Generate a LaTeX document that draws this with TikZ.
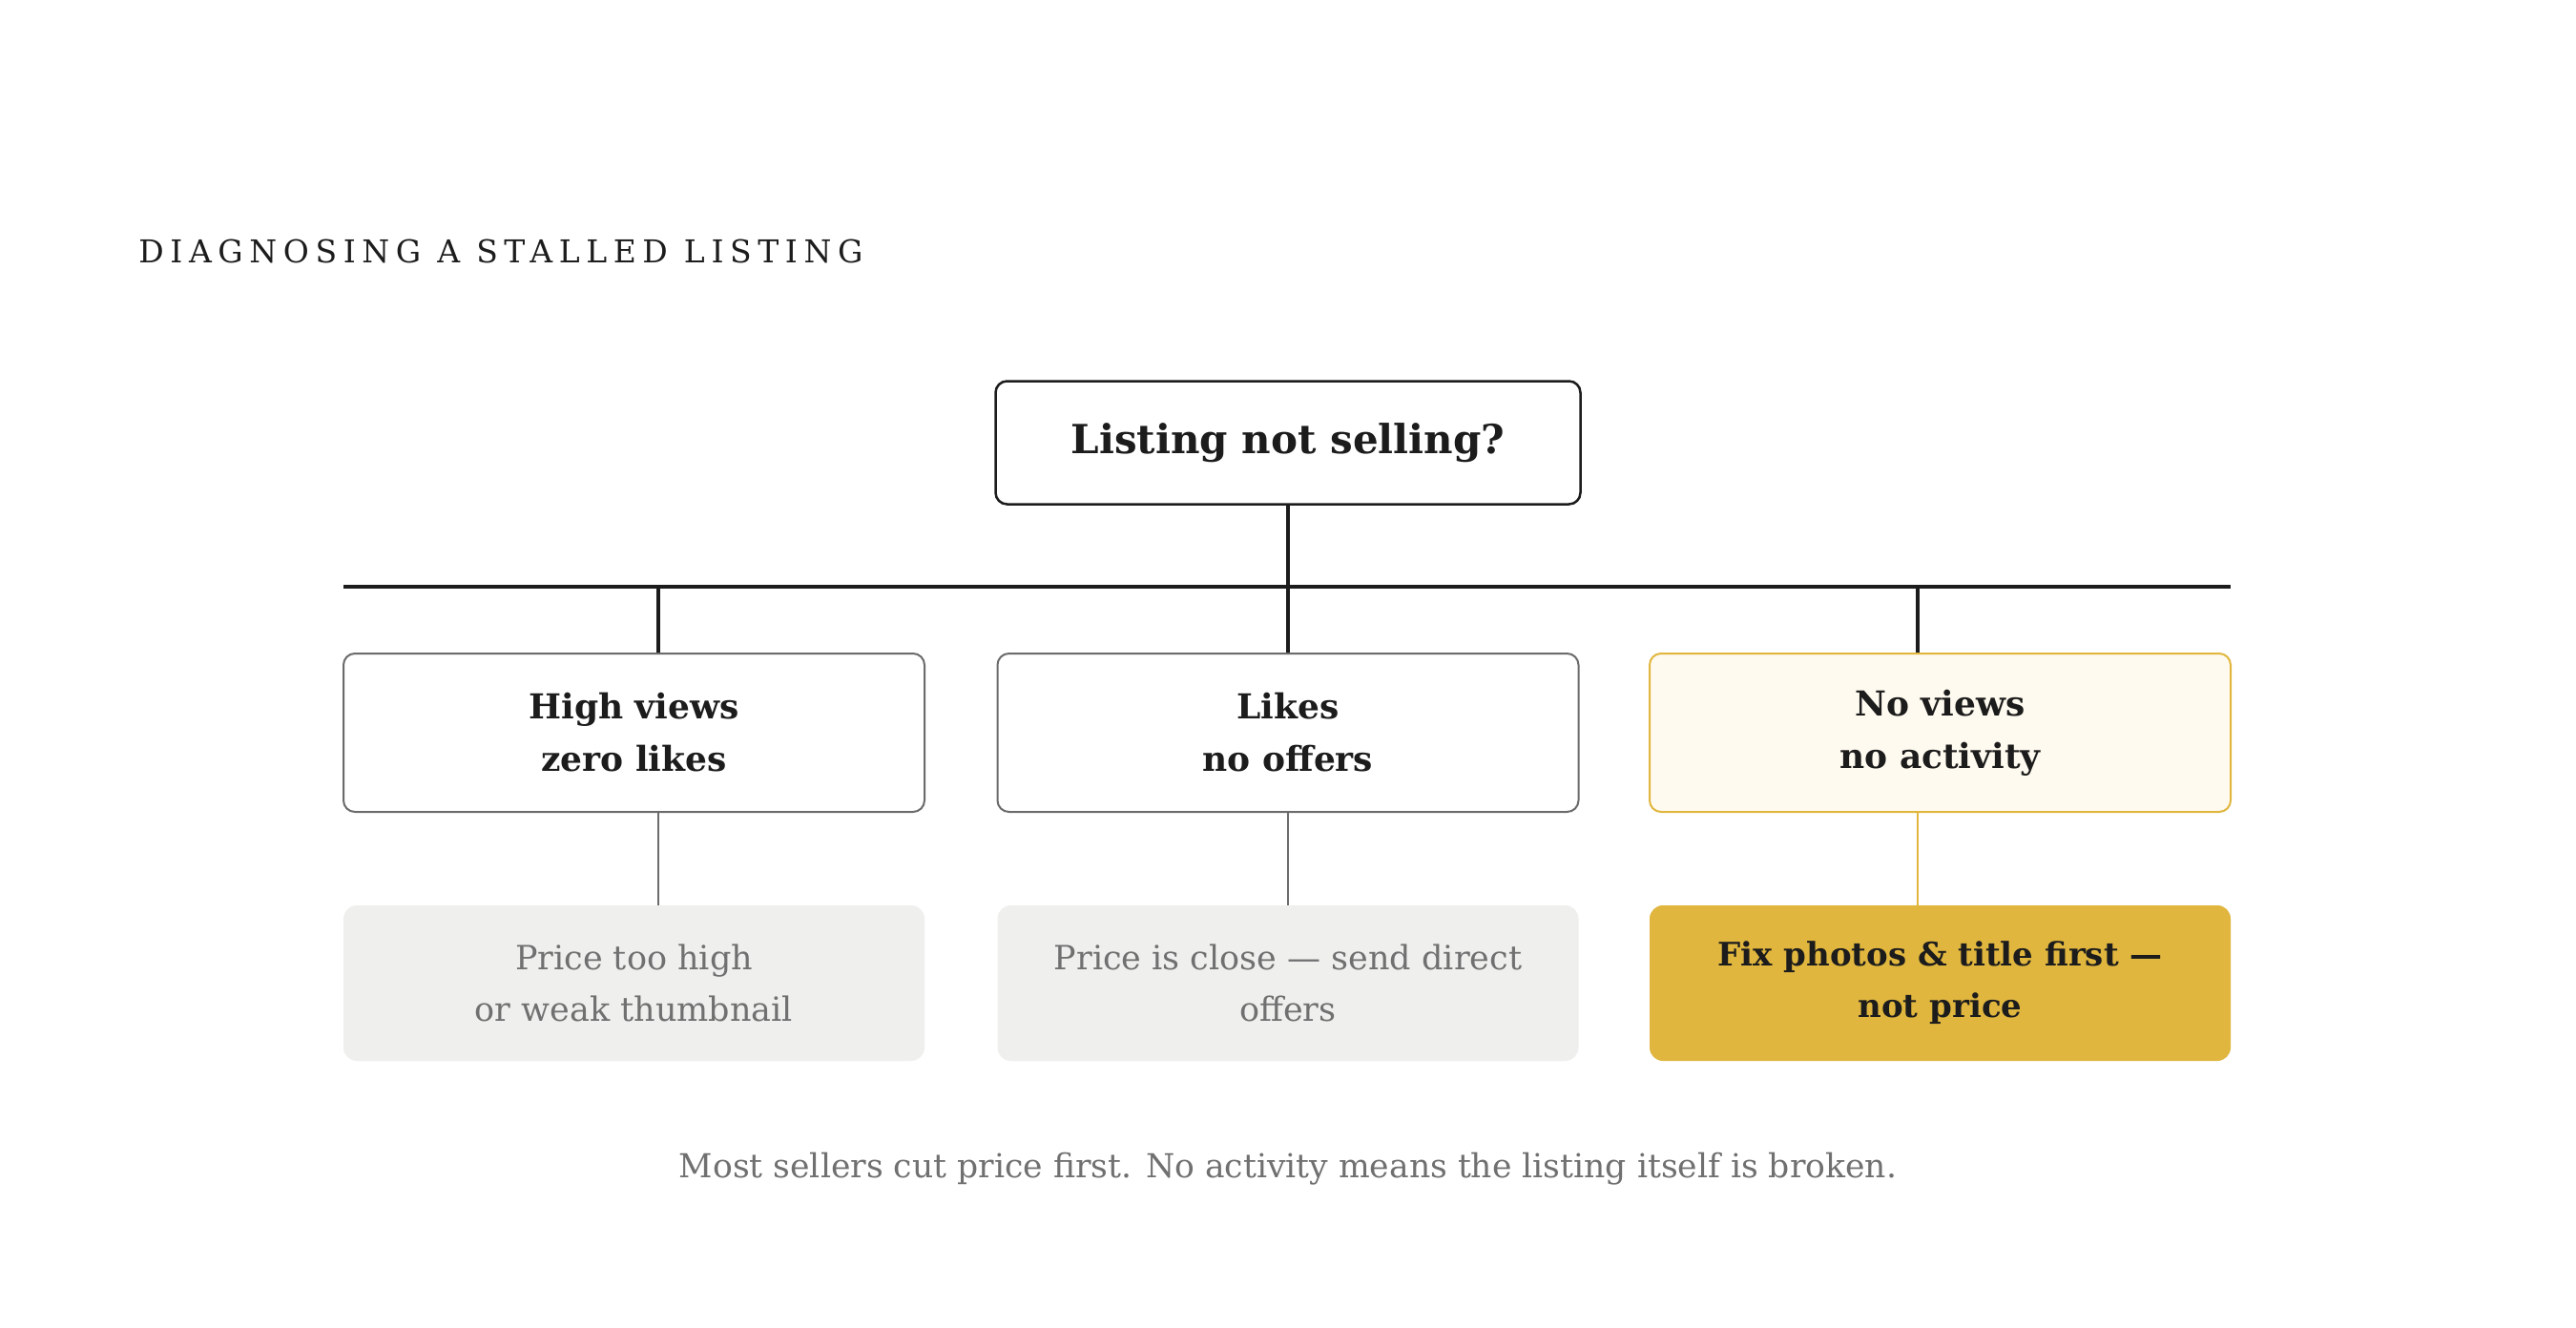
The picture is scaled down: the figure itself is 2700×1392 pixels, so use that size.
\documentclass[tikz,border=0pt]{standalone}
\usepackage{fontspec}
\setmainfont{DejaVu Serif}
\newfontfamily\titlefont[LetterSpace=20]{DejaVu Serif}
\definecolor{ink}{HTML}{1C1C1C}
\definecolor{greyline}{HTML}{6B6B6B}
\definecolor{greyfill}{HTML}{EFEFED}
\definecolor{greytext}{HTML}{707070}
\definecolor{gold}{HTML}{E0B63E}
\definecolor{cream}{HTML}{FFFAEF}
\tikzset{
  topbox/.style={draw=ink, line width=1.25pt, rounded corners=6pt, fill=white,
    minimum width=306.5pt, minimum height=64.5pt, inner sep=0pt,
    font=\fontsize{21}{26}\selectfont\bfseries, text=ink},
  midbox/.style={draw=greyline, line width=1pt, rounded corners=6pt, fill=white,
    minimum width=304.5pt, minimum height=83pt, inner sep=0pt, align=center,
    font=\fontsize{18}{27.5}\selectfont\bfseries, text=ink},
  midgold/.style={midbox, draw=gold, fill=cream},
  lowbox/.style={draw=none, rounded corners=7pt, fill=greyfill,
    minimum width=304.5pt, minimum height=81.5pt, inner sep=0pt, align=center,
    font=\fontsize{17.5}{27}\selectfont, text=greytext},
  lowgold/.style={lowbox, fill=gold, text=ink, font=\fontsize{17}{27}\selectfont\bfseries},
  bus/.style={draw=ink, line width=2.2pt},
  thick link/.style={draw=ink, line width=2pt},
  thin link/.style={draw=greyline, line width=1pt},
  gold link/.style={draw=gold, line width=1pt},
}
\begin{document}
\begin{tikzpicture}[x=0.5pt, y=-0.5pt]
\useasboundingbox[fill=white] (0,0) rectangle (2700,1392);
% title
\node[anchor=base west, inner sep=0pt, text=ink, font=\titlefont\fontsize{16.5}{20}\selectfont] (title) at (145,275) {DIAGNOSING A STALLED LISTING};
% root
\node[topbox] (root) at (1350,464) {Listing not selling?};
% bus
\coordinate (busL) at (360,615);
\coordinate (busR) at (2338,615);
\coordinate (d1) at (690,615);
\coordinate (d2) at (1350,615);
\coordinate (d3) at (2010,615);
% mid nodes
\node[midbox] (m1) at (664.5,768) {High views\\zero likes};
\node[midbox] (m2) at (1350,768) {Likes\\no offers};
\node[midgold] (m3) at (2033.5,768) {No views\\no activity};
% low nodes
\node[lowbox] (b1) at (664.5,1030.5) {Price too high\\or weak thumbnail};
\node[lowbox] (b2) at (1350,1030.5) {Price is close — send direct\\offers};
\node[lowgold] (b3) at (2033.5,1030.5) {Fix photos \& title first —\\not price};
% connectors
\draw[thick link] (root.south) -- (d2);
\draw[bus] (busL) -- (busR);
\draw[thick link] (d1) -- (d1 |- m1.north);
\draw[thick link] (d2) -- (d2 |- m2.north);
\draw[thick link] (d3) -- (d3 |- m3.north);
\draw[thin link] (d1 |- m1.south) -- (d1 |- b1.north);
\draw[thin link] (d2 |- m2.south) -- (d2 |- b2.north);
\draw[gold link] (d3 |- m3.south) -- (d3 |- b3.north);
% footer
\node[text=greytext, font=\fontsize{17.3}{20}\selectfont, inner sep=0pt] (foot) at (1350,1225) {Most sellers cut price first. No activity means the listing itself is broken.};
\end{tikzpicture}
\end{document}
